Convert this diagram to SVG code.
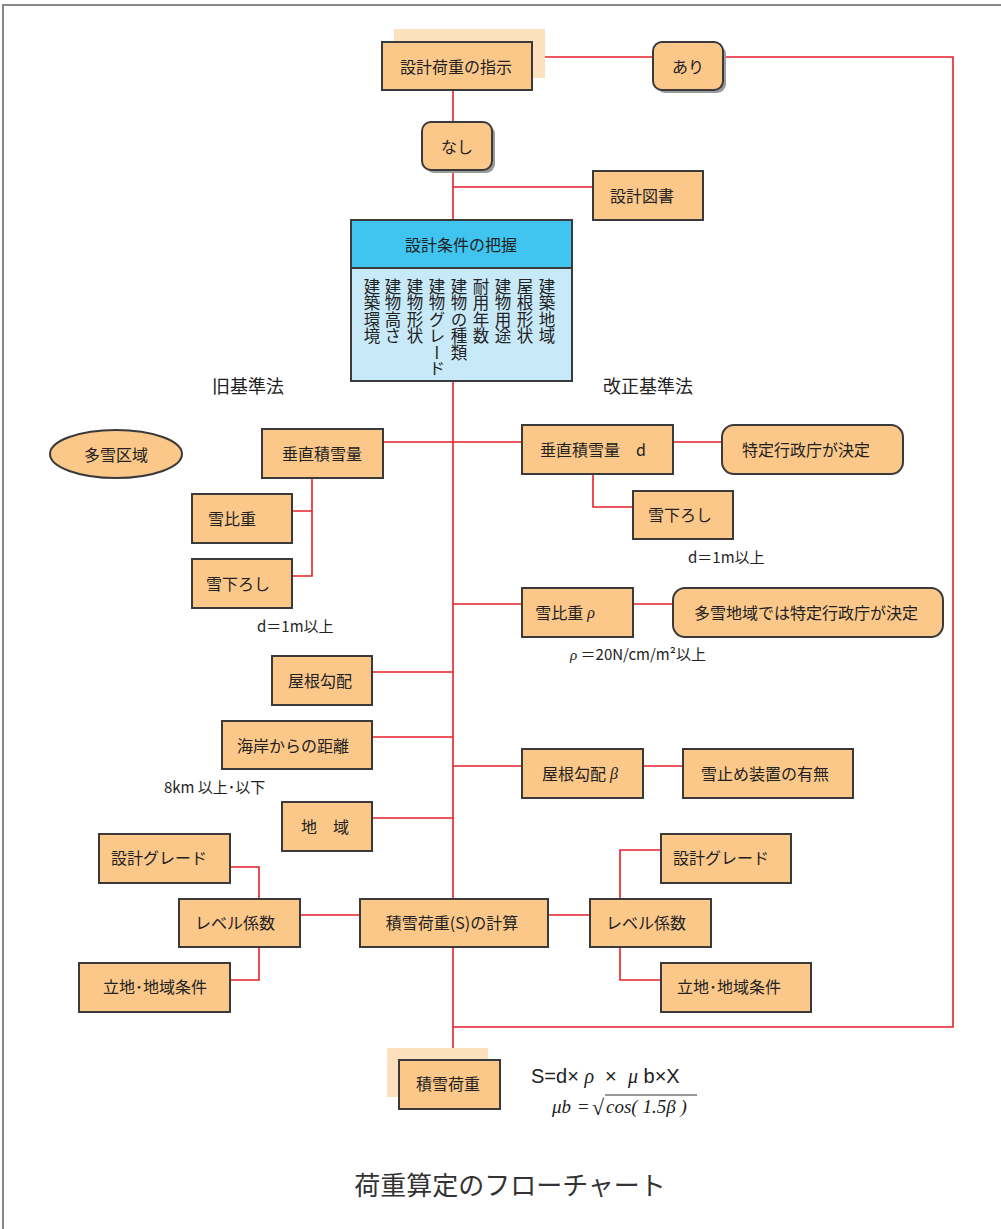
<svg xmlns="http://www.w3.org/2000/svg" width="1001" height="1229" viewBox="0 0 1001 1229">
<style>
text{font-family:"Noto Sans CJK JP","Noto Sans",sans-serif;fill:#222;}
.box{fill:#FBC88A;stroke:#3a3a3a;stroke-width:2;}
.sh{fill:#9a9a9a;}
.bg{fill:#FDE0BE;}
.t{font-size:16px;text-anchor:middle;dominant-baseline:central;}
.n{font-size:15px;}
.h{font-size:18px;text-anchor:middle;}
.v{font-size:16.5px;writing-mode:vertical-rl;letter-spacing:0;}
.c{fill:none;stroke:#E8202A;stroke-width:1.6;}
</style>
<rect width="1001" height="1229" fill="#fff"/>
<path d="M3,1229 V5 H1001" fill="none" stroke="#888" stroke-width="2"/>

<g id="connectors">
<path class="c" d="M532,57 H653 M723,57 H953 V1027 H453"/>
<path class="c" d="M453,90 V122 M453,170 V220 M453,187 H593"/>
<path class="c" d="M453,381 V899 M453,947 V1048"/>
<path class="c" d="M383,442 H522 M673,442 H722"/>
<path class="c" d="M312,478 V576 H292 M292,511 H312"/>
<path class="c" d="M593,474 V507 H633"/>
<path class="c" d="M453,604 H522 M633,604 H673"/>
<path class="c" d="M372,672 H453 M372,737 H453 M372,818 H453"/>
<path class="c" d="M453,766 H522 M643,766 H683"/>
<path class="c" d="M300,915 H360 M548,915 H590"/>
<path class="c" d="M230,867 H259 V899 M259,947 V980 H230"/>
<path class="c" d="M661,850 H620 V899 M620,947 V980 H661"/>
</g>

<g id="n-shiji"><rect class="bg" x="394" y="29" width="151" height="49"/><rect class="box" x="382" y="42" width="150" height="48"/><text class="t" x="456" y="66">設計荷重の指示</text></g>
<g id="n-ari"><rect class="sh" x="656" y="45" width="70" height="48" rx="9"/><rect class="box" x="653" y="42" width="70" height="48" rx="9"/><text class="t" x="688" y="66">あり</text></g>
<g id="n-nashi"><rect class="sh" x="425" y="125" width="70" height="48" rx="9"/><rect class="box" x="422" y="122" width="70" height="48" rx="9"/><text class="t" x="457" y="146">なし</text></g>
<g id="n-zusho"><rect class="box" x="593" y="171" width="110" height="49"/><text class="t" x="642" y="195">設計図書</text></g>

<g id="n-joken">
<rect x="351" y="220" width="221" height="48" fill="#40C4F0" stroke="#3a3a3a" stroke-width="2"/>
<rect x="351" y="268" width="221" height="113" fill="#C7E9F8" stroke="#3a3a3a" stroke-width="2"/>
<text class="t" x="461" y="244">設計条件の把握</text>
<text class="v" x="547" y="278">建築地域</text>
<text class="v" x="525" y="278">屋根形状</text>
<text class="v" x="503" y="278">建物用途</text>
<text class="v" x="481" y="278">耐用年数</text>
<text class="v" x="459" y="278">建物の種類</text>
<text class="v" x="437" y="278">建物グレード</text>
<text class="v" x="415" y="278">建物形状</text>
<text class="v" x="393" y="278">建物高さ</text>
<text class="v" x="372" y="278">建築環境</text>
</g>

<text class="h" x="248" y="393">旧基準法</text>
<text class="h" x="648" y="393">改正基準法</text>

<g id="n-tasetsu"><ellipse class="box" cx="116" cy="454" rx="66" ry="24"/><text class="t" x="116" y="454">多雪区域</text></g>
<g id="n-suichoku-old"><rect class="box" x="262" y="429" width="121" height="49"/><text class="t" x="322" y="453">垂直積雪量</text></g>
<g id="n-hiju-old"><rect class="box" x="192" y="494" width="100" height="49"/><text class="t" x="232" y="518">雪比重</text></g>
<g id="n-oroshi-old"><rect class="box" x="192" y="559" width="100" height="49"/><text class="t" x="238" y="583">雪下ろし</text></g>
<text class="n" x="257" y="632">d＝1m以上</text>

<g id="n-suichoku-new"><rect class="box" x="522" y="425" width="151" height="49"/><text class="t" x="540" y="449" style="text-anchor:start">垂直積雪量　d</text></g>
<g id="n-tokutei1"><rect class="box" x="722" y="425" width="181" height="49" rx="12"/><text class="t" x="806" y="449">特定行政庁が決定</text></g>
<g id="n-oroshi-new"><rect class="box" x="633" y="491" width="100" height="48"/><text class="t" x="680" y="514">雪下ろし</text></g>
<text class="n" x="688" y="563">d＝1m以上</text>
<g id="n-hiju-new"><rect class="box" x="522" y="588" width="111" height="49"/><text class="t" x="565" y="612">雪比重<tspan font-style="italic" font-family="Liberation Serif, serif"> ρ</tspan></text></g>
<g id="n-tokutei2"><rect class="box" x="673" y="588" width="270" height="49" rx="12"/><text class="t" x="806" y="612">多雪地域では特定行政庁が決定</text></g>
<text class="n" x="570" y="660"><tspan font-style="italic" font-family="Liberation Serif, serif">ρ</tspan> ＝20N/cm/m²以上</text>

<g id="n-kobai-old"><rect class="box" x="272" y="656" width="100" height="49"/><text class="t" x="320" y="680">屋根勾配</text></g>
<g id="n-kaigan"><rect class="box" x="222" y="721" width="150" height="48"/><text class="t" x="293" y="745">海岸からの距離</text></g>
<text class="n" x="164" y="793">8km 以上･以下</text>
<g id="n-chiiki"><rect class="box" x="282" y="802" width="90" height="49"/><text class="t" x="325" y="826">地　域</text></g>

<g id="n-kobai-new"><rect class="box" x="522" y="749" width="121" height="49"/><text class="t" x="580" y="773">屋根勾配<tspan font-style="italic" font-family="Liberation Serif, serif"> β</tspan></text></g>
<g id="n-yukidome"><rect class="box" x="683" y="749" width="170" height="49"/><text class="t" x="765" y="773">雪止め装置の有無</text></g>

<g id="n-keisan"><rect class="box" x="360" y="899" width="188" height="48"/><text class="t" x="452" y="922">積雪荷重(S)の計算</text></g>
<g id="n-level-l"><rect class="box" x="179" y="899" width="121" height="48"/><text class="t" x="235" y="922">レベル係数</text></g>
<g id="n-grade-l"><rect class="box" x="99" y="834" width="131" height="49"/><text class="t" x="159" y="857">設計グレード</text></g>
<g id="n-ritchi-l"><rect class="box" x="79" y="963" width="151" height="49"/><text class="t" x="155" y="986">立地･地域条件</text></g>
<g id="n-level-r"><rect class="box" x="590" y="899" width="121" height="48"/><text class="t" x="646" y="922">レベル係数</text></g>
<g id="n-grade-r"><rect class="box" x="661" y="834" width="130" height="49"/><text class="t" x="721" y="857">設計グレード</text></g>
<g id="n-ritchi-r"><rect class="box" x="661" y="963" width="150" height="49"/><text class="t" x="729" y="986">立地･地域条件</text></g>

<g id="n-sekisetsu"><rect class="bg" x="387" y="1048" width="101" height="49"/><rect class="box" x="399" y="1060" width="101" height="49"/><text class="t" x="448" y="1083">積雪荷重</text></g>

<text x="531" y="1083" style="font-family:'Liberation Sans',sans-serif;font-size:20px" xml:space="preserve">S=d× <tspan font-style="italic" font-family="Liberation Serif, serif">ρ</tspan>  ×  <tspan font-family="Liberation Serif, serif" font-style="italic">μ</tspan> b×X</text>
<text x="552" y="1113" style="font-family:'Liberation Serif',serif;font-size:19px;font-style:italic">μb</text>
<text x="578" y="1113" style="font-family:'Liberation Serif',serif;font-size:19px">=</text>
<text x="592" y="1115" style="font-family:'Liberation Serif',serif;font-size:22px">√</text>
<line x1="605" y1="1095" x2="697" y2="1095" stroke="#333" stroke-width="1.2"/>
<text x="606" y="1113" style="font-family:'Liberation Serif',serif;font-size:19px;font-style:italic">cos( 1.5<tspan>β</tspan> )</text>

<text x="510" y="1195" style="font-size:26px;text-anchor:middle;fill:#333">荷重算定のフローチャート</text>
</svg>
